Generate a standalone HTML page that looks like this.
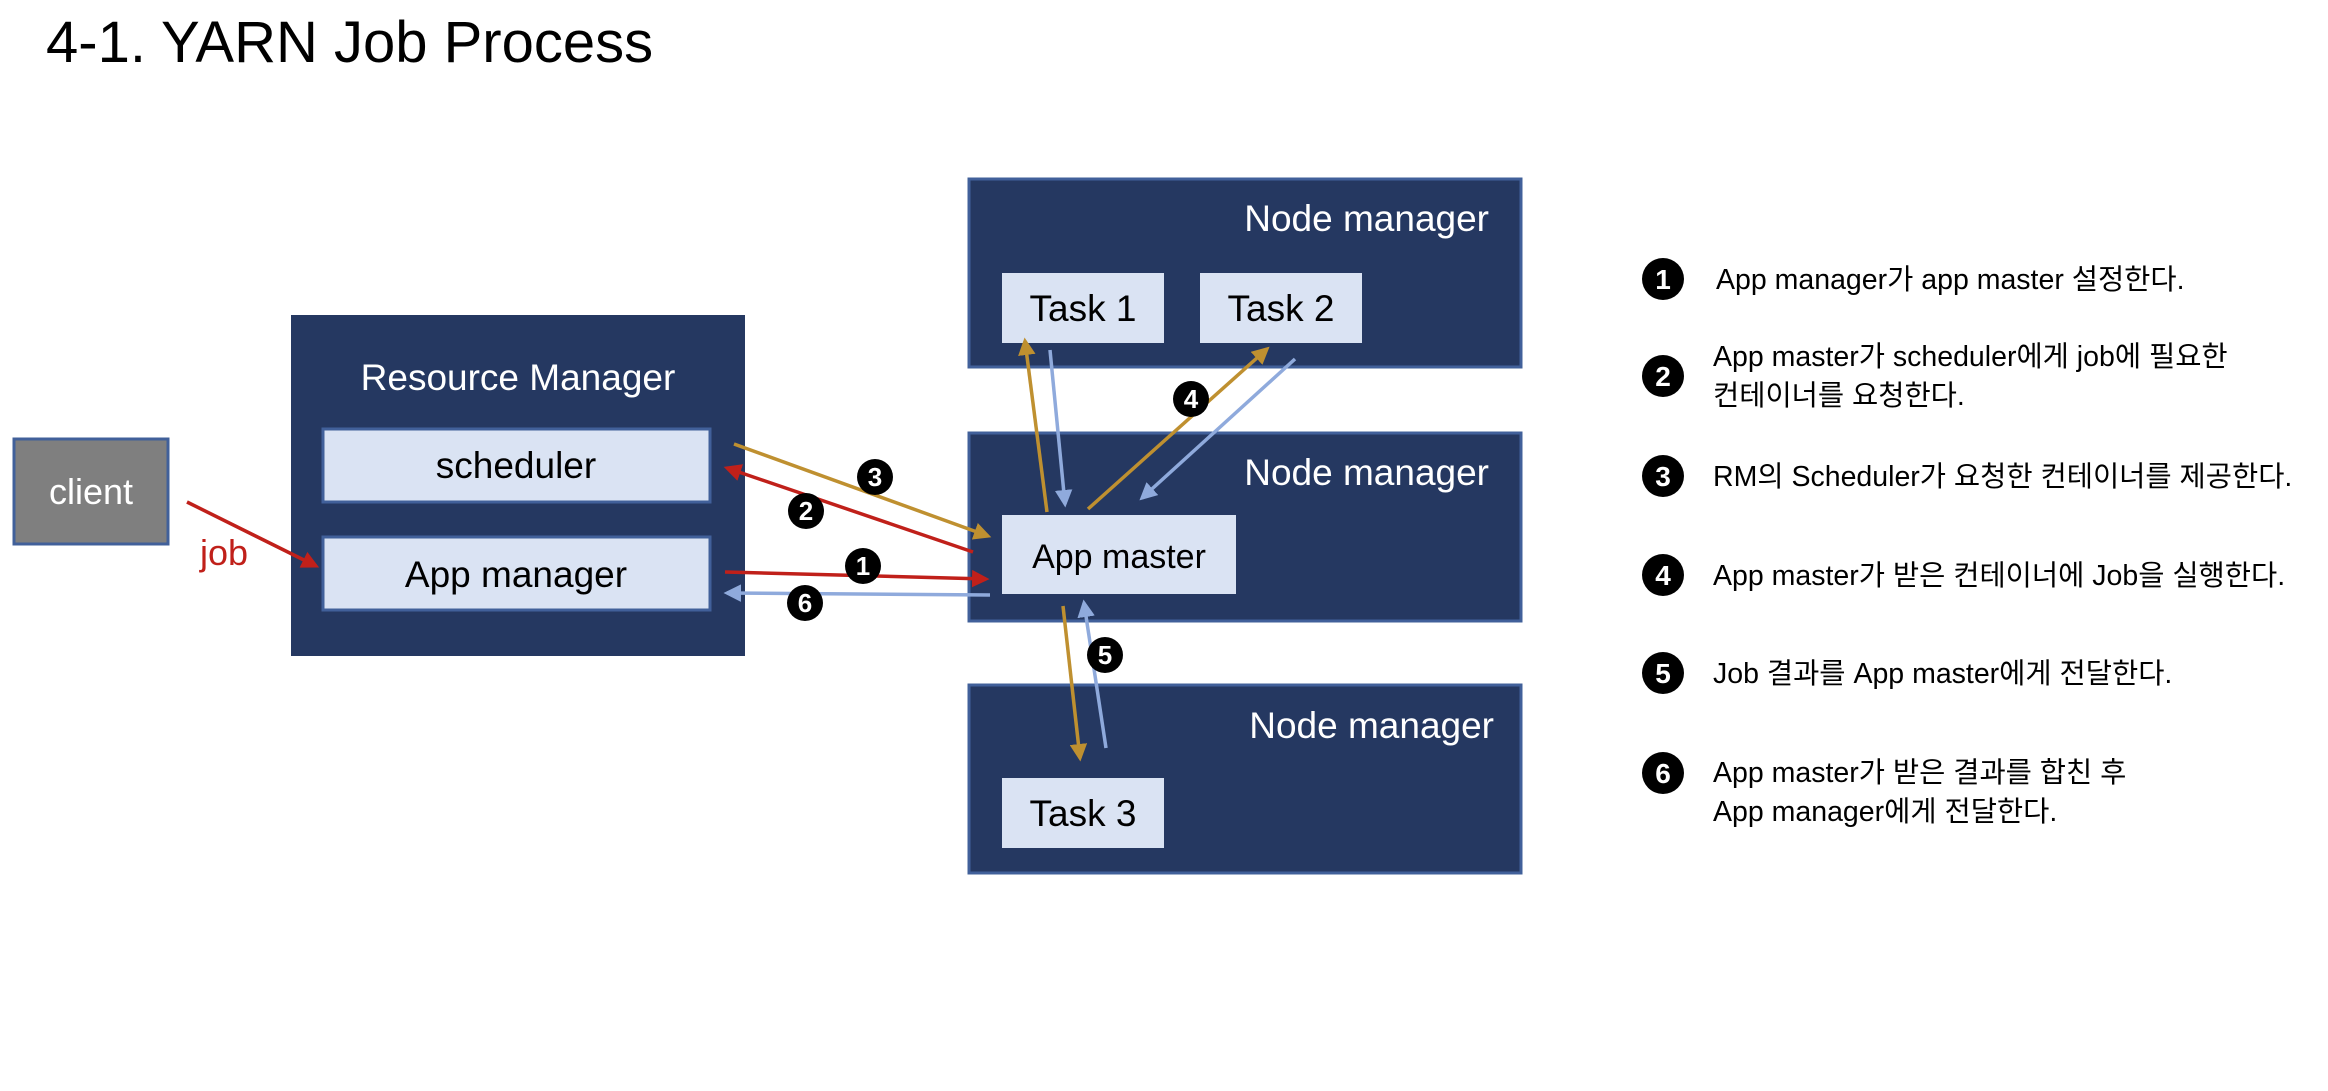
<!DOCTYPE html>
<html><head><meta charset="utf-8"><style>
body{margin:0;width:2328px;height:1086px;background:#fff;overflow:hidden;font-family:"Liberation Sans","Noto Sans CJK KR",sans-serif;}
</style></head><body>
<svg width="2328" height="1086" xmlns="http://www.w3.org/2000/svg" font-family="Liberation Sans, Noto Sans CJK KR, sans-serif">
<defs>
<marker id="r" markerWidth="5" markerHeight="5" refX="4" refY="2.5" orient="auto" markerUnits="strokeWidth"><path d="M0,0 L5,2.5 L0,5 z" fill="#c0201a"/></marker>
<marker id="g" markerWidth="5" markerHeight="5" refX="4" refY="2.5" orient="auto" markerUnits="strokeWidth"><path d="M0,0 L5,2.5 L0,5 z" fill="#bf9030"/></marker>
<marker id="b" markerWidth="5" markerHeight="5" refX="4" refY="2.5" orient="auto" markerUnits="strokeWidth"><path d="M0,0 L5,2.5 L0,5 z" fill="#8faadc"/></marker>
</defs>
<text x="46" y="62" font-size="58" fill="#000">4-1. YARN Job Process</text>

<rect x="14" y="439" width="154" height="105" fill="#7f7f7f" stroke="#41609a" stroke-width="3"/>
<text x="91" y="504" font-size="36" fill="#fff" text-anchor="middle">client</text>

<rect x="291" y="315" width="454" height="341" fill="#253861"/>
<text x="518" y="390" font-size="37" fill="#fff" text-anchor="middle">Resource Manager</text>
<rect x="323" y="429" width="387" height="73" fill="#dae3f3" stroke="#41609a" stroke-width="3"/>
<text x="516" y="478" font-size="37" fill="#000" text-anchor="middle">scheduler</text>
<rect x="323" y="537" width="387" height="73" fill="#dae3f3" stroke="#41609a" stroke-width="3"/>
<text x="516" y="587" font-size="37" fill="#000" text-anchor="middle">App manager</text>

<rect x="969" y="179" width="552" height="188" fill="#253861" stroke="#41609a" stroke-width="3"/>
<text x="1489" y="231" font-size="37" fill="#fff" text-anchor="end">Node manager</text>
<rect x="1002" y="273" width="162" height="70" fill="#dae3f3"/>
<text x="1083" y="321" font-size="37" fill="#000" text-anchor="middle">Task 1</text>
<rect x="1200" y="273" width="162" height="70" fill="#dae3f3"/>
<text x="1281" y="321" font-size="37" fill="#000" text-anchor="middle">Task 2</text>

<rect x="969" y="433" width="552" height="188" fill="#253861" stroke="#41609a" stroke-width="3"/>
<text x="1489" y="485" font-size="37" fill="#fff" text-anchor="end">Node manager</text>
<rect x="1002" y="515" width="234" height="79" fill="#dae3f3"/>
<text x="1119" y="568" font-size="34" fill="#000" text-anchor="middle">App master</text>

<rect x="969" y="685" width="552" height="188" fill="#253861" stroke="#41609a" stroke-width="3"/>
<text x="1494" y="738" font-size="37" fill="#fff" text-anchor="end">Node manager</text>
<rect x="1002" y="778" width="162" height="70" fill="#dae3f3"/>
<text x="1083" y="826" font-size="37" fill="#000" text-anchor="middle">Task 3</text>

<g stroke-width="3.5" fill="none">
<line x1="187" y1="502" x2="316" y2="566" stroke="#c0201a" marker-end="url(#r)"/>
<line x1="734" y1="444" x2="988" y2="536" stroke="#bf9030" marker-end="url(#g)"/>
<line x1="973" y1="552" x2="727" y2="468" stroke="#c0201a" marker-end="url(#r)"/>
<line x1="725" y1="572" x2="986" y2="579" stroke="#c0201a" marker-end="url(#r)"/>
<line x1="990" y1="595" x2="727" y2="593" stroke="#8faadc" marker-end="url(#b)"/>
<line x1="1047" y1="512" x2="1025" y2="341" stroke="#bf9030" marker-end="url(#g)"/>
<line x1="1050" y1="350" x2="1065" y2="504" stroke="#8faadc" marker-end="url(#b)"/>
<line x1="1088" y1="509" x2="1267" y2="349" stroke="#bf9030" marker-end="url(#g)"/>
<line x1="1295" y1="359" x2="1142" y2="498" stroke="#8faadc" marker-end="url(#b)"/>
<line x1="1063" y1="606" x2="1080" y2="758" stroke="#bf9030" marker-end="url(#g)"/>
<line x1="1106" y1="748" x2="1084" y2="603" stroke="#8faadc" marker-end="url(#b)"/>
</g>
<text x="224" y="565" font-size="36" fill="#c0201a" text-anchor="middle">job</text>

<g font-size="26" fill="#fff" text-anchor="middle" font-weight="bold">
<circle cx="863" cy="566" r="18" fill="#000"/><text x="863" y="575">1</text>
<circle cx="806" cy="511" r="18" fill="#000"/><text x="806" y="520">2</text>
<circle cx="875" cy="477" r="18" fill="#000"/><text x="875" y="486">3</text>
<circle cx="1191" cy="399" r="18" fill="#000"/><text x="1191" y="408">4</text>
<circle cx="1105" cy="655" r="18" fill="#000"/><text x="1105" y="664">5</text>
<circle cx="805" cy="603" r="18" fill="#000"/><text x="805" y="612">6</text>
</g>

<g font-size="28" fill="#fff" text-anchor="middle" font-weight="bold">
<circle cx="1663" cy="279" r="21" fill="#000"/><text x="1663" y="289">1</text>
<circle cx="1663" cy="376" r="21" fill="#000"/><text x="1663" y="386">2</text>
<circle cx="1663" cy="476" r="21" fill="#000"/><text x="1663" y="486">3</text>
<circle cx="1663" cy="575" r="21" fill="#000"/><text x="1663" y="585">4</text>
<circle cx="1663" cy="673" r="21" fill="#000"/><text x="1663" y="683">5</text>
<circle cx="1663" cy="773" r="21" fill="#000"/><text x="1663" y="783">6</text>
</g>
<g font-size="28.5" fill="#000">
<text x="1716" y="289">App manager가 app master 설정한다.</text>
<text x="1713" y="366">App master가 scheduler에게 job에 필요한</text>
<text x="1713" y="405">컨테이너를 요청한다.</text>
<text x="1713" y="486">RM의 Scheduler가 요청한 컨테이너를 제공한다.</text>
<text x="1713" y="585">App master가 받은 컨테이너에 Job을 실행한다.</text>
<text x="1713" y="683">Job 결과를 App master에게 전달한다.</text>
<text x="1713" y="782">App master가 받은 결과를 합친 후</text>
<text x="1713" y="821">App manager에게 전달한다.</text>
</g>
</svg>
</body></html>
